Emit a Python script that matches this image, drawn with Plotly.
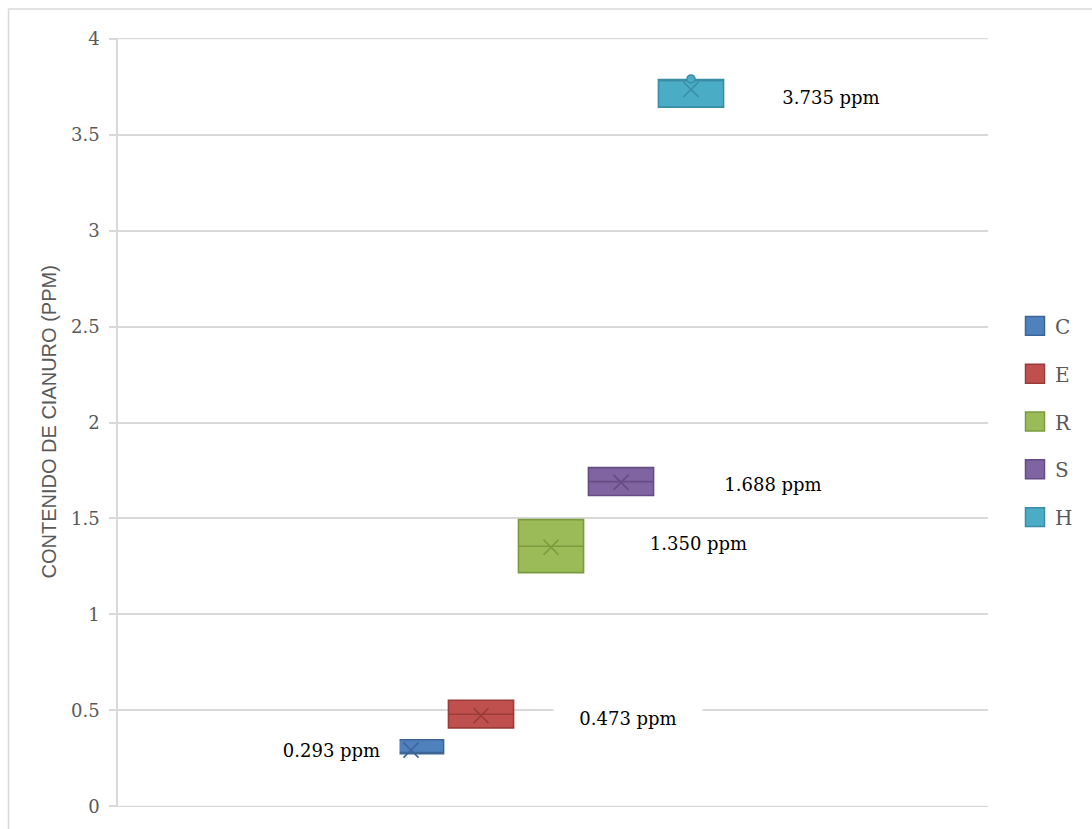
import plotly.graph_objects as go

# ---- data ----
series = ["C", "E", "R", "S", "H"]
q1 = [0.275, 0.409, 1.218, 1.620, 3.643]
median = [0.275, 0.480, 1.355, 1.692, 3.786]
q3 = [0.347, 0.553, 1.494, 1.765, 3.786]
mean = [0.293, 0.473, 1.350, 1.688, 3.735]
outliers = {"H": [3.790]}
labels = ["0.293 ppm", "0.473 ppm", "1.350 ppm", "1.688 ppm", "3.735 ppm"]
y_ticks = [0, 0.5, 1, 1.5, 2, 2.5, 3, 3.5, 4]

# ---- styles ----
fills = ["#4F81BD", "#C0504D", "#9BBB59", "#8064A2", "#4BACC6"]
edges = ["#3D6697", "#9A3C39", "#7A9A3E", "#644C84", "#3A8DA5"]
label_dx = [-1.14, 2.1, 2.1, 2.17, 2.0]
label_w = [133, 146, 167, 140, 140]
label_yshift = [0, -2, 4, -2, -8]
serif = "DejaVu Serif"
grid_color = "#D9D9D9"

W, H = 1092, 829
L, R, T, B = 118, 104, 38, 19
pw, ph = W - L - R, H - T - B


def px2paper_x(px):
    return (px - L) / pw


def px2paper_y(py):
    return (H - B - py) / ph


fig = go.Figure()

# edge gridlines (plotly omits gridlines at the range ends)
for yv in (y_ticks[0], y_ticks[-1]):
    fig.add_shape(type="line", xref="paper", yref="y", x0=0, x1=1, y0=yv, y1=yv,
                  line=dict(color=grid_color, width=1.5), layer="below")

for i, name in enumerate(series):
    fig.add_trace(go.Box(
        name=name, x=[i], q1=[q1[i]], median=[median[i]], q3=[q3[i]],
        lowerfence=[q1[i]], upperfence=[q3[i]],
        width=0.93, whiskerwidth=0,
        fillcolor=fills[i], line=dict(color=edges[i], width=1.6),
        showlegend=False, hoverinfo="skip",
    ))
    fig.add_trace(go.Scatter(
        x=[i], y=[mean[i]], mode="markers", showlegend=False,
        marker=dict(symbol="x-thin", size=15, line=dict(color=edges[i], width=1.6)),
        hoverinfo="skip",
    ))
    if name in outliers:
        vals = outliers[name]
        fig.add_trace(go.Scatter(
            x=[i] * len(vals), y=vals, mode="markers", showlegend=False,
            marker=dict(symbol="circle", size=8, color=fills[i], line=dict(color=edges[i], width=1.5)),
            hoverinfo="skip",
        ))
    fig.add_annotation(
        x=i + label_dx[i], y=mean[i], xref="x", yref="y", text=labels[i],
        showarrow=False, bgcolor="white", width=label_w[i], height=28,
        yshift=label_yshift[i], font=dict(family=serif, size=18, color="#000000"),
    )
    # custom legend entry
    cy = 327 + 48 * i
    fig.add_shape(type="rect", xref="paper", yref="paper",
                  x0=px2paper_x(1025.5), x1=px2paper_x(1044.5),
                  y0=px2paper_y(cy + 9.5), y1=px2paper_y(cy - 9.5),
                  fillcolor=fills[i], line=dict(color=edges[i], width=1.5))
    fig.add_annotation(x=px2paper_x(1053), y=px2paper_y(cy + 1), xref="paper", yref="paper",
                       text=name, showarrow=False, xanchor="left", yanchor="middle",
                       font=dict(family=serif, size=20, color="#595959"))

# outer chart border
fig.add_shape(type="rect", xref="paper", yref="paper",
              x0=px2paper_x(8.5), x1=px2paper_x(1110), y0=px2paper_y(9), y1=px2paper_y(850),
              line=dict(color=grid_color, width=1.5), layer="below")

fig.add_annotation(
    x=px2paper_x(35), y=0.5, xref="paper", yref="paper",
    text="CONTENIDO DE CIANURO (PPM)", textangle=-90, showarrow=False,
    font=dict(family="Liberation Sans", size=20, color="#595959"),
)

fig.update_layout(
    width=W, height=H, margin=dict(l=L, r=R, t=T, b=B),
    paper_bgcolor="white", plot_bgcolor="white",
    xaxis=dict(range=[-4.186, 8.243], visible=False, fixedrange=True),
    yaxis=dict(range=[-0.003, 4.003], tickvals=y_ticks, ticktext=[f"{v:g}" for v in y_ticks],
               showgrid=True, gridcolor=grid_color, gridwidth=1.5,
               zeroline=False, showline=True, linecolor=grid_color, linewidth=1.5,
               ticks="outside", ticklen=7, tickcolor=grid_color, tickwidth=1.5,
               ticklabelstandoff=6,
               tickfont=dict(family=serif, size=18, color="#595959")),
    showlegend=False,
)

fig.write_html("out.html")
